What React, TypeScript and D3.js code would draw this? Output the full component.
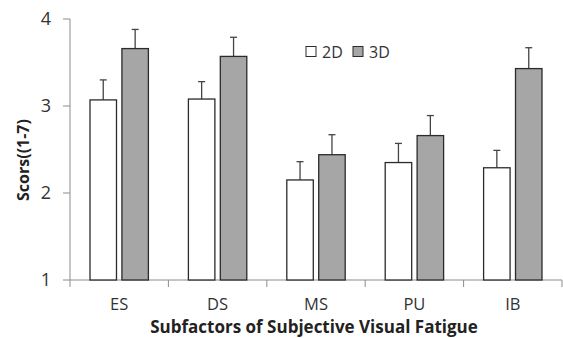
import React, { useEffect, useRef } from 'react';
import * as d3 from 'd3';

const categories = ['ES', 'DS', 'MS', 'PU', 'IB'];
const seriesNames = ['2D', '3D'];
const values2D = [3.07, 3.08, 2.15, 2.35, 2.29];
const values3D = [3.66, 3.57, 2.44, 2.66, 3.43];
const err2D = [0.23, 0.2, 0.21, 0.22, 0.2];
const err3D = [0.22, 0.22, 0.23, 0.23, 0.24];
const yTicks = [1, 2, 3, 4];

const FONT = '"Open Sans", "DejaVu Sans", sans-serif';

const App = () => {
  const ref = useRef<SVGSVGElement>(null);

  useEffect(() => {
    const svg = d3.select(ref.current);
    svg.selectAll('*').remove();

    const margin = { top: 19, right: 1, bottom: 58, left: 70 };
    const width = 563 - margin.left - margin.right;
    const height = 338 - margin.top - margin.bottom;

    const g = svg.append('g').attr('transform', `translate(${margin.left},${margin.top})`);

    const x = d3.scaleBand().domain(categories).range([0, width]).padding(0);
    const xs = d3.scaleBand().domain(seriesNames).range([20, x.bandwidth() - 20]).paddingInner(0.17);
    const y = d3.scaleLinear().domain([1, 4]).range([height, 0]);

    // axes
    const axisColor = '#8c8c8c';
    g.append('line').attr('x1', 0).attr('x2', 0).attr('y1', 0).attr('y2', height).attr('stroke', axisColor);
    g.append('line').attr('x1', 0).attr('x2', width).attr('y1', height).attr('y2', height).attr('stroke', axisColor);

    yTicks.forEach(t => {
      g.append('line').attr('x1', -7).attr('x2', 0).attr('y1', y(t)).attr('y2', y(t)).attr('stroke', axisColor);
      g.append('text')
        .attr('x', -19)
        .attr('y', y(t))
        .attr('dy', '0.36em')
        .attr('text-anchor', 'end')
        .attr('font-family', FONT)
        .attr('font-size', 18)
        .attr('fill', '#333')
        .text(t);
    });

    const bounds = [...categories.map(c => x(c) as number), width];
    bounds.forEach(b => {
      g.append('line').attr('x1', b).attr('x2', b).attr('y1', height).attr('y2', height + 7).attr('stroke', axisColor);
    });

    categories.forEach(c => {
      g.append('text')
        .attr('x', (x(c) as number) + x.bandwidth() / 2)
        .attr('y', height + 30)
        .attr('text-anchor', 'middle')
        .attr('font-family', FONT)
        .attr('font-size', 16.5)
        .attr('fill', '#333')
        .text(c);
    });

    // bars
    const series = [
      { name: '2D', vals: values2D, errs: err2D, fill: '#ffffff' },
      { name: '3D', vals: values3D, errs: err3D, fill: '#a6a6a6' },
    ];

    series.forEach(s => {
      categories.forEach((c, i) => {
        const bx = (x(c) as number) + (xs(s.name) as number);
        const cx = bx + xs.bandwidth() / 2;
        const top = y(s.vals[i]);
        const errTop = y(s.vals[i] + s.errs[i]);
        g.append('line')
          .attr('x1', cx).attr('x2', cx)
          .attr('y1', errTop).attr('y2', top)
          .attr('stroke', '#444').attr('stroke-width', 1.3);
        g.append('line')
          .attr('x1', cx - 3.5).attr('x2', cx + 3.5)
          .attr('y1', errTop).attr('y2', errTop)
          .attr('stroke', '#444').attr('stroke-width', 1.3);
        g.append('rect')
          .attr('x', bx)
          .attr('y', top)
          .attr('width', xs.bandwidth())
          .attr('height', height - top)
          .attr('fill', s.fill)
          .attr('stroke', '#2b2b2b')
          .attr('stroke-width', 1.3);
      });
    });

    // legend
    const legend = svg.append('g').attr('transform', 'translate(306,46)');
    series.forEach((s, i) => {
      const lx = i * 47;
      legend.append('rect')
        .attr('x', lx).attr('y', 0.5).attr('width', 10).attr('height', 10)
        .attr('fill', s.fill).attr('stroke', '#2b2b2b').attr('stroke-width', 1);
      legend.append('text')
        .attr('x', lx + 16).attr('y', 11.5)
        .attr('font-family', FONT).attr('font-size', 16).attr('fill', '#333')
        .text(s.name);
    });

    // axis titles
    svg.append('text')
      .attr('x', 314)
      .attr('y', 333)
      .attr('text-anchor', 'middle')
      .attr('font-family', FONT)
      .attr('font-size', 17)
      .attr('font-weight', 'bold')
      .attr('fill', '#222')
      .text('Subfactors of Subjective Visual Fatigue');

    svg.append('text')
      .attr('transform', 'translate(29,160) rotate(-90)')
      .attr('text-anchor', 'middle')
      .attr('font-family', FONT)
      .attr('font-size', 16)
      .attr('font-weight', 'bold')
      .attr('fill', '#222')
      .text('Scors((1-7)');
  }, []);

  return <svg ref={ref} width={563} height={338} style={{ position: 'absolute', left: 0, top: 0 }} />;
};

export default App;
